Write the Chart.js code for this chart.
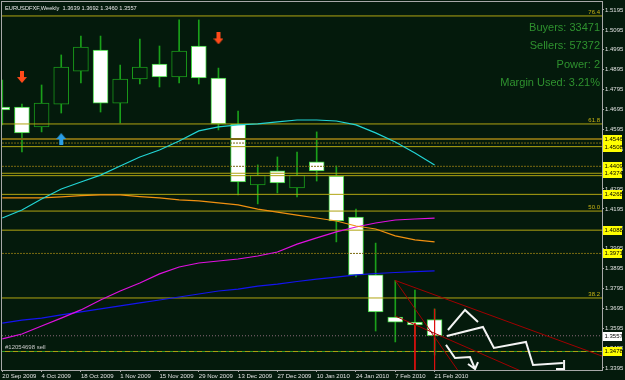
<!DOCTYPE html>
<html>
<head>
<meta charset="utf-8">
<title>EURUSDFXF Weekly</title>
<script src="https://cdn.jsdelivr.net/npm/chart.js@4.4.1/dist/chart.umd.min.js"></script>
<style>
  html, body { margin: 0; padding: 0; background: #041a0c; overflow: hidden; }
  canvas { display: block; }
</style>
</head>
<body>
<canvas id="chartCanvas" width="625" height="380"></canvas>
<script>
// weekly bars, EURUSD
const weeks = ['20 Sep 2009', '27 Sep 2009', '4 Oct 2009', '11 Oct 2009', '18 Oct 2009', '25 Oct 2009',
    '1 Nov 2009', '8 Nov 2009', '15 Nov 2009', '22 Nov 2009', '29 Nov 2009', '6 Dec 2009',
    '13 Dec 2009', '20 Dec 2009', '27 Dec 2009', '3 Jan 2010', '10 Jan 2010', '17 Jan 2010',
    '24 Jan 2010', '31 Jan 2010', '7 Feb 2010', '14 Feb 2010', '21 Feb 2010'];
const opens  = [1.4707, 1.4707, 1.4607, 1.4722, 1.4888, 1.4994, 1.4727, 1.4848, 1.4923, 1.4858, 1.5014, 1.4853,
    1.4622, 1.4315, 1.4386, 1.4300, 1.4431, 1.4360, 1.4154, 1.3863, 1.3651, 1.3626, 1.3639];
const highs  = [1.4843, 1.4722, 1.4818, 1.4969, 1.5064, 1.5064, 1.4918, 1.5049, 1.5014, 1.5145, 1.5145, 1.4903,
    1.4687, 1.4416, 1.4456, 1.4481, 1.4582, 1.4411, 1.4194, 1.4023, 1.3835, 1.3787, 1.3692];
const lows   = [1.4617, 1.4481, 1.4582, 1.4677, 1.4828, 1.4682, 1.4627, 1.4823, 1.4808, 1.4828, 1.4823, 1.4592,
    1.4265, 1.4220, 1.4275, 1.4255, 1.4335, 1.4029, 1.3853, 1.3581, 1.3526, 1.3561, 1.3460];
const closes = [1.4692, 1.4577, 1.4727, 1.4908, 1.5009, 1.4727, 1.4848, 1.4908, 1.4858, 1.4989, 1.4853, 1.4622,
    1.4330, 1.4365, 1.4325, 1.4365, 1.4386, 1.4134, 1.3863, 1.3677, 1.3626, 1.3611, 1.3557];

// moving averages, one value per bar
const maCyan    = [1.4149, 1.4189, 1.4245, 1.4295, 1.4330, 1.4365, 1.4411, 1.4456, 1.4491, 1.4536, 1.4587, 1.4607,
    1.4617, 1.4622, 1.4632, 1.4642, 1.4642, 1.4637, 1.4617, 1.4577, 1.4531, 1.4476, 1.4416];
const maOrange  = [1.4250, 1.4250, 1.4250, 1.4255, 1.4262, 1.4265, 1.4265, 1.4257, 1.4250, 1.4240, 1.4235, 1.4225,
    1.4215, 1.4194, 1.4179, 1.4164, 1.4149, 1.4134, 1.4109, 1.4094, 1.4059, 1.4039, 1.4029];
const maMagenta = [1.3541, 1.3566, 1.3606, 1.3646, 1.3687, 1.3737, 1.3782, 1.3822, 1.3868, 1.3903, 1.3923, 1.3933,
    1.3943, 1.3958, 1.3978, 1.4018, 1.4049, 1.4079, 1.4104, 1.4124, 1.4139, 1.4144, 1.4149];
const maBlue    = [1.3621, 1.3636, 1.3646, 1.3662, 1.3677, 1.3692, 1.3707, 1.3722, 1.3737, 1.3752, 1.3767, 1.3782,
    1.3792, 1.3807, 1.3817, 1.3830, 1.3842, 1.3852, 1.3863, 1.3870, 1.3875, 1.3880, 1.3883];

// horizontal objects
const fibLevels = [1.5165, 1.4622, 1.4184, 1.3747];
const fibNames = ['76.4', '61.8', '50.0', '38.2'];
const solidLevels = [1.4508, 1.4374, 1.4268, 1.4088];
const dottedLevels = [1.4409, 1.3971];
const heavyLevels = [1.4546];
const extraDotted = [1.4526];
const extraSolid = [1.4362];
const orderLevel = 1.3478;
const orderName = '#12054698 sell';
const lastPrice = 1.3557;

// drawn objects: [bar index, price]
const trendTop = [[20, 1.3835], [30.52, 1.3455]];
const trendSteep = [[20, 1.3835], [23.24, 1.3375]];
const trendMid = [[20, 1.3656], [26.5, 1.3375]];
const vertA = [[21, 1.3621], [21, 1.3385]];
const vertB = [[22, 1.3692], [22, 1.3385]];
const zigA = [[22.68, 1.3586], [23.55, 1.3687], [24.21, 1.3626]];
const zigB = [[22.63, 1.3556], [24.46, 1.3601], [25.02, 1.3496], [26.65, 1.3526], [27.01, 1.3410], [28.53, 1.3420]];
const zigBHead = [[28.59, 1.3435], [28.59, 1.3390], [28.18, 1.3390]];
const zigC = [[22.58, 1.3511], [23.04, 1.3445], [23.80, 1.3450], [24.06, 1.3390]];
const zigCHead = [[23.70, 1.3415], [24.06, 1.3390], [24.21, 1.3425]];
const sellArrows = [[1, 1.4858], [11, 1.5052]];
const buyArrows = [[3, 1.4546]];

const infoLines = ['Buyers: 33471', 'Sellers: 57372', 'Power: 2', 'Margin Used: 3.21%'];
const xTicks = [0, 2, 4, 6, 8, 10, 12, 14, 16, 18, 20, 22];
const yTicks = [1.3395, 1.3495, 1.3595, 1.3695, 1.3795, 1.3895, 1.3995, 1.4095, 1.4195, 1.4295,
    1.4395, 1.4495, 1.4595, 1.4695, 1.4795, 1.4895, 1.4995, 1.5095, 1.5195];

const xMin = -0.015, xMax = 30.52;
const yMin = 1.33849, yMax = 1.52352;
const bgColor = '#041a0c';
const yellowLine = '#b0a412';
const oliveLine = '#7a6a12';
const axisFont = { family: 'Liberation Sans', size: 6 };

const title = 'EURUSDFXF,Weekly  ' + [opens, highs, lows, closes].map(a => a[a.length - 1].toFixed(4)).join(' ');

function pts(list) {
    return list.map(p => ({ x: p[0], y: p[1] }));
}

function lineSet(data, color, width, order, dash) {
    return {
        type: 'line', data: data, borderColor: color, borderWidth: width,
        borderDash: dash || [], pointRadius: 0, fill: false, tension: 0, order: order
    };
}

function hLine(level, color, width, order, dash) {
    return lineSet([{ x: xMin, y: level }, { x: xMax, y: level }], color, width, order, dash);
}

function maSet(values, color) {
    return lineSet(values.map((v, i) => ({ x: i, y: v })), color, 1.2, 5);
}

function arrowImage(color, down) {
    const c = document.createElement('canvas');
    c.width = 10; c.height = 12;
    const g = c.getContext('2d');
    g.fillStyle = color;
    if (!down) { g.translate(0, 12); g.scale(1, -1); }
    g.fillRect(3, 0, 4, 6);
    g.beginPath();
    g.moveTo(0, 6); g.lineTo(10, 6); g.lineTo(5, 12);
    g.closePath();
    g.fill();
    return c;
}

const bull = opens.map((o, i) => closes[i] > o);

const datasets = [
    {
        type: 'bar', label: 'wicks', grouped: false, order: 10,
        data: weeks.map((w, i) => ({ x: i, y: [lows[i], highs[i]] })),
        backgroundColor: '#1aa01a', barThickness: 1, borderWidth: 0
    },
    {
        type: 'bar', label: 'bodies', grouped: false, order: 9,
        data: weeks.map((w, i) => ({ x: i, y: [opens[i], closes[i]] })),
        backgroundColor: bull.map(b => b ? bgColor : '#ffffff'),
        borderColor: bull.map(b => b ? '#1a9a1a' : '#3ad23a'),
        borderWidth: 1, borderSkipped: false, barThickness: 15
    }
];

solidLevels.concat(extraSolid).forEach(v => datasets.push(hLine(v, yellowLine, 1, 7)));
fibLevels.forEach(v => datasets.push(hLine(v, yellowLine, 1, 7)));
dottedLevels.concat(extraDotted).forEach(v => datasets.push(hLine(v, oliveLine, 1, 7, [2, 1])));
heavyLevels.forEach(v => datasets.push(hLine(v, oliveLine, 2, 7)));
datasets.push(hLine(orderLevel, yellowLine, 1, 7));
datasets.push(hLine(orderLevel, '#2a9a2a', 1, 6, [3, 5]));
datasets.push(hLine(lastPrice, '#8a6a7a', 1, 6, [1, 2]));

datasets.push(maSet(maCyan, '#22d4d4'));
datasets.push(maSet(maOrange, '#f09010'));
datasets.push(maSet(maMagenta, '#e010e0'));
datasets.push(maSet(maBlue, '#1414f0'));

[trendTop, trendSteep, trendMid].forEach(t => datasets.push(lineSet(pts(t), '#a00000', 1, 3)));
[vertA, vertB].forEach(t => datasets.push(lineSet(pts(t), '#dd1010', 1, 3)));
[zigA, zigB, zigBHead, zigC, zigCHead].forEach(t => datasets.push(lineSet(pts(t), '#f4f4f4', 2, 2)));

datasets.push({
    type: 'line', data: pts(sellArrows), showLine: false, order: 1,
    pointStyle: arrowImage('#ff4a1a', true), pointRadius: 6
});
datasets.push({
    type: 'line', data: pts(buyArrows), showLine: false, order: 1,
    pointStyle: arrowImage('#2a9ee6', false), pointRadius: 6
});

const mt4Plugin = {
    id: 'mt4',
    beforeDraw(chart) {
        const ctx = chart.ctx;
        ctx.save();
        ctx.fillStyle = bgColor;
        ctx.fillRect(0, 0, chart.width, chart.height);
        ctx.restore();
    },
    afterDraw(chart) {
        const ctx = chart.ctx;
        const a = chart.chartArea;
        const y = chart.scales.y;
        ctx.save();
        ctx.strokeStyle = '#a8a8a8';
        ctx.lineWidth = 1;
        ctx.strokeRect(a.left - 0.5, a.top - 0.5, a.right - a.left + 1, a.bottom - a.top + 1);

        ctx.font = '5.7px "Liberation Sans"';
        ctx.fillStyle = '#e8e8e8';
        ctx.textAlign = 'left';
        ctx.textBaseline = 'alphabetic';
        ctx.fillText(title, a.left + 3, a.top + 8);

        ctx.font = '11px "Liberation Sans"';
        ctx.fillStyle = '#2f922f';
        ctx.textAlign = 'right';
        infoLines.forEach((t, i) => ctx.fillText(t, a.right - 2, a.top + 29 + i * 18.3));

        ctx.font = '6px "Liberation Sans"';
        ctx.fillStyle = '#c8b414';
        fibLevels.forEach((v, i) => ctx.fillText(fibNames[i], a.right - 2, y.getPixelForValue(v) - 2));

        ctx.textAlign = 'left';
        ctx.fillStyle = '#c8c8c8';
        ctx.fillText(orderName, a.left + 3, y.getPixelForValue(orderLevel) - 2);

        // price tags on the axis
        const tags = heavyLevels.concat(solidLevels, dottedLevels, [orderLevel]).map(v => [v, '#ffff00']);
        tags.push([lastPrice, '#ffffff']);
        ctx.textBaseline = 'middle';
        tags.forEach(t => {
            const py = Math.round(y.getPixelForValue(t[0]));
            ctx.fillStyle = t[1];
            ctx.fillRect(a.right + 1, py - 4, 19, 9);
            ctx.fillStyle = '#000000';
            ctx.fillText(t[0].toFixed(4), a.right + 2.5, py + 0.5);
        });
        ctx.restore();
    }
};

const config = {
    type: 'bar',
    data: { datasets: datasets },
    options: {
        responsive: false,
        animation: false,
        events: [],
        layout: { autoPadding: false, padding: { left: 2, top: 2, right: 0, bottom: 0 } },
        plugins: { legend: { display: false }, tooltip: { enabled: false } },
        scales: {
            x: {
                type: 'linear', min: xMin, max: xMax, offset: false,
                grid: { offset: false, drawOnChartArea: false, color: '#a8a8a8', tickLength: 2 },
                border: { color: '#a8a8a8' },
                ticks: {
                    font: axisFont, color: '#e0e0e0', align: 'start', padding: 1,
                    autoSkip: false, maxRotation: 0, minRotation: 0,
                    callback: v => weeks[v]
                },
                afterBuildTicks: s => { s.ticks = xTicks.map(v => ({ value: v })); },
                afterFit: s => { s.height = 10; s.paddingLeft = 0; s.paddingRight = 0; }
            },
            y: {
                type: 'linear', position: 'right', min: yMin, max: yMax,
                grid: { drawOnChartArea: false, color: '#a8a8a8', tickLength: 2 },
                border: { color: '#a8a8a8' },
                ticks: {
                    font: axisFont, color: '#e0e0e0', padding: 1,
                    autoSkip: false, callback: v => v.toFixed(4)
                },
                afterBuildTicks: s => { s.ticks = yTicks.map(v => ({ value: v })); },
                afterFit: s => { s.width = 23; s.paddingTop = 0; s.paddingBottom = 0; }
            }
        }
    },
    plugins: [mt4Plugin]
};

let myChart = new Chart(document.getElementById('chartCanvas'), config);
</script>
</body>
</html>
